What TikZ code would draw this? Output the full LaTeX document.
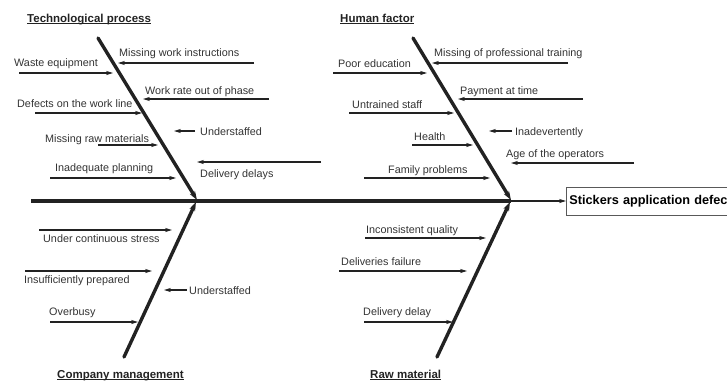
\documentclass[tikz,border=0pt]{standalone}
\usepackage{fontspec}
\setmainfont{Liberation Sans}
\usetikzlibrary{arrows.meta}
\definecolor{ink}{HTML}{222222}
\definecolor{txt}{HTML}{333333}
\tikzset{
  bone/.style={line width=3.4pt, draw=ink, line cap=round, -{Stealth[length=9pt,width=6pt]}},
  spine/.style={line width=3.4pt, draw=ink},
  causearrow/.style={line width=1.7pt, draw=ink, -{Stealth[length=7pt,width=4.2pt]}},
  causetext/.style={anchor=west, inner sep=0pt, text=txt, yshift=-2pt,
    font=\fontsize{10.8}{12}\selectfont, text height=7.8pt, text depth=2.2pt},
  headtext/.style={anchor=base west, inner sep=0pt, text=ink,
    font=\fontsize{11.5}{13}\selectfont\bfseries},
  effectbox/.style={draw=ink!75, line width=0.8pt, anchor=west, minimum height=28pt,
    text width=214pt, align=left, inner sep=3pt, text=black,
    font=\fontsize{12.7}{14}\selectfont\bfseries},
}
% title with a rule set close under its baseline
\newcommand\ulhead[1]{\setbox0\hbox{#1}\rlap{\rule[-1.9pt]{\wd0}{0.9pt}}\box0}
% \causeitem{name}{label}{label x}{label y}{from x}{from y}{to x}{to y}
\newcommand\causeitem[8]{%
  \coordinate (#1-from) at (#5,#6);
  \coordinate (#1-to) at (#7,#8);
  \draw[causearrow] (#1-from) -- (#1-to);
  \node[causetext] (#1) at (#3,#4) {#2};
}
\begin{document}
\begin{tikzpicture}[x=1pt, y=-1pt]
\useasboundingbox (0,0) rectangle (727,383);
\clip (0,0) rectangle (727,383);

% effect box and main spine
\node[effectbox] (effect) at (566,201) {Stickers application defec};
\coordinate (tail) at (31,201);
\coordinate (joint) at (511,201);
\draw[spine] (tail) -- (joint);
\draw[causearrow] (joint) -- (effect.west);

% category bones
\coordinate (tp-top) at (98,38);   \coordinate (tp-end) at (197,200);
\coordinate (hf-top) at (413,38);  \coordinate (hf-end) at (511,200);
\coordinate (cm-bot) at (124,357); \coordinate (cm-end) at (196,202);
\coordinate (rm-bot) at (437,357); \coordinate (rm-end) at (510,202);
\draw[bone] (tp-top) -- (tp-end);
\draw[bone] (hf-top) -- (hf-end);
\draw[bone] (cm-bot) -- (cm-end);
\draw[bone] (rm-bot) -- (rm-end);

% category titles
\node[headtext] (tp-title) at (27,22) {\ulhead{Technological process}};
\node[headtext] (hf-title) at (340,22) {\ulhead{Human factor}};
\node[headtext] (cm-title) at (57,378) {\ulhead{Company management}};
\node[headtext] (rm-title) at (370,378) {\ulhead{Raw material}};

% technological process
\causeitem{tp1}{Waste equipment}{14}{62}{19}{73}{113}{73}
\causeitem{tp2}{Missing work instructions}{119}{52}{254}{63}{118}{63}
\causeitem{tp3}{Work rate out of phase}{145}{90}{269}{99}{143}{99}
\causeitem{tp4}{Defects on the work line}{17}{103}{35}{113}{142}{113}
\causeitem{tp5}{Understaffed}{200}{131}{195}{131}{174}{131}
\causeitem{tp6}{Missing raw materials}{45}{138}{98}{145}{158}{145}
\causeitem{tp7}{Delivery delays}{200}{173}{321}{162}{197}{162}
\causeitem{tp8}{Inadequate planning}{55}{167}{50}{178}{176}{178}

% human factor
\causeitem{hf1}{Missing of professional training}{434}{52}{568}{63}{432}{63}
\causeitem{hf2}{Poor education}{338}{63}{333}{73}{427}{73}
\causeitem{hf3}{Payment at time}{460}{90}{583}{99}{458}{99}
\causeitem{hf4}{Untrained staff}{352}{104}{349}{113}{454}{113}
\causeitem{hf5}{Inadevertently}{515}{131}{512}{131}{489}{131}
\causeitem{hf6}{Health}{414}{136}{412}{145}{473}{145}
\causeitem{hf7}{Age of the operators}{506}{153}{634}{163}{511}{163}
\causeitem{hf8}{Family problems}{388}{169}{364}{178}{490}{178}

% company management
\causeitem{cm1}{Under continuous stress}{43}{238}{39}{230}{172}{230}
\causeitem{cm2}{Insufficiently prepared}{24}{279}{25}{271}{152}{271}
\causeitem{cm3}{Understaffed}{189}{290}{187}{290}{164}{290}
\causeitem{cm4}{Overbusy}{49}{311}{50}{322}{138}{322}

% raw material
\causeitem{rm1}{Inconsistent quality}{366}{229}{365}{238}{486}{238}
\causeitem{rm2}{Deliveries failure}{341}{261}{339}{271}{467}{271}
\causeitem{rm3}{Delivery delay}{363}{311}{364}{322}{453}{322}
\end{tikzpicture}
\end{document}
